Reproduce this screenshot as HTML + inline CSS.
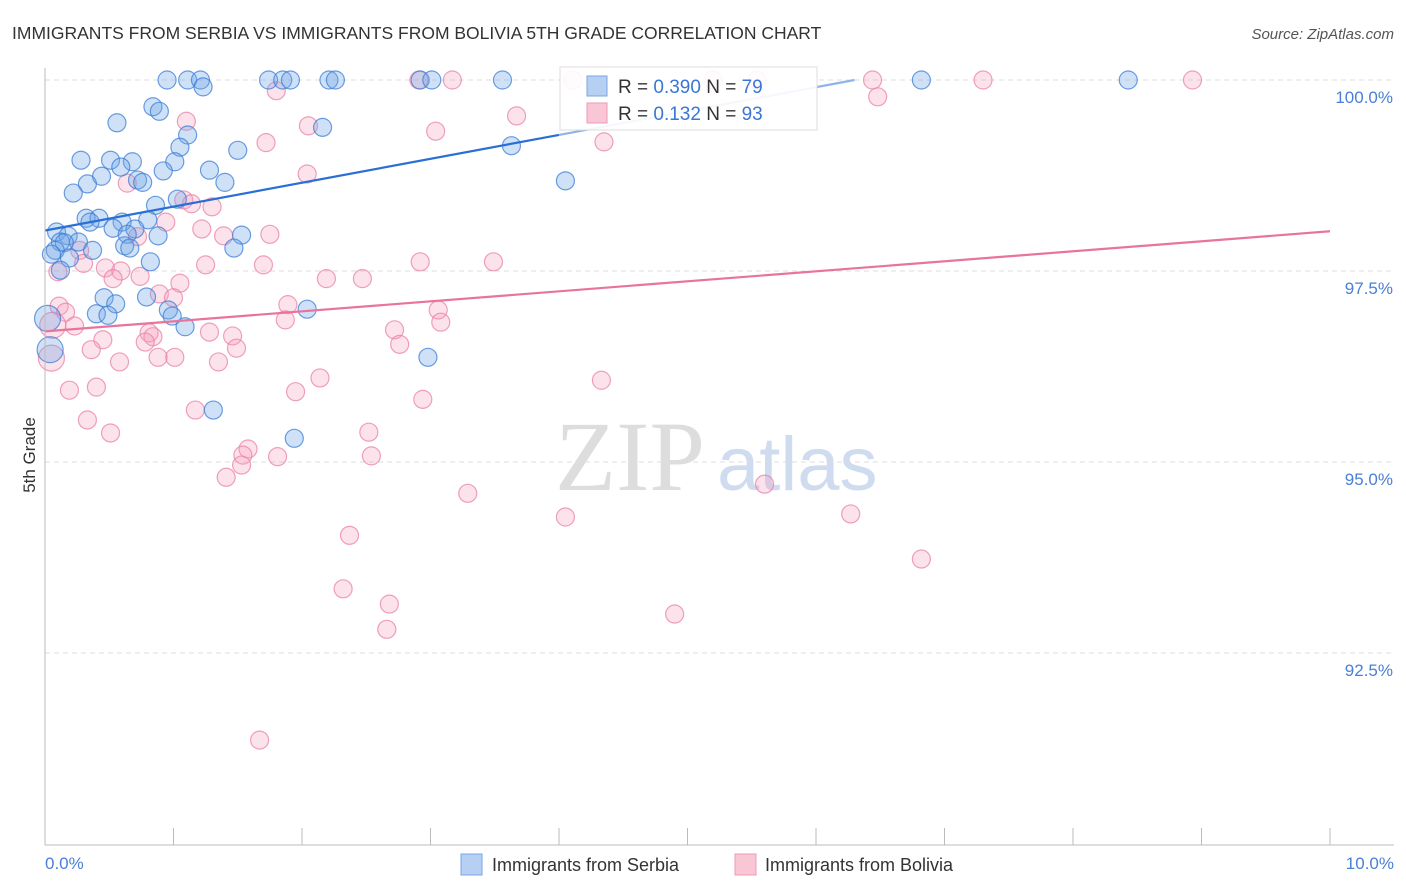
<!DOCTYPE html>
<html><head><meta charset="utf-8"><style>
body{margin:0;background:#fff;font-family:"Liberation Sans",sans-serif}
svg{display:block}
</style></head><body>
<svg id="c" width="1406" height="892" xmlns="http://www.w3.org/2000/svg">
<text x="12" y="39" font-size="17.5" fill="#333">IMMIGRANTS FROM SERBIA VS IMMIGRANTS FROM BOLIVIA 5TH GRADE CORRELATION CHART</text>
<text x="1394" y="39" font-size="15" fill="#555" font-style="italic" text-anchor="end">Source: ZipAtlas.com</text>
<text x="555" y="490" font-size="100" fill="#ddd" font-family="Liberation Serif,serif">ZIP</text>
<text x="717" y="490" font-size="76" fill="#cfdcf0">atlas</text>
<g id="grid"></g><g id="pts"></g><g id="lines"></g>
<line x1="45" y1="68" x2="45" y2="845" stroke="#bbb"/>
<line x1="45" y1="845" x2="1394" y2="845" stroke="#bbb"/>
<text x="35" y="455" font-size="17" fill="#333" transform="rotate(-90 35 455)" text-anchor="middle">5th Grade</text>
<text x="45" y="869" font-size="17" fill="#4a7fd6">0.0%</text>
<text x="1394" y="869" font-size="17" fill="#4a7fd6" text-anchor="end">10.0%</text>
<g>
<rect x="560" y="67" width="257" height="63" fill="#fff" fill-opacity="0.9" stroke="#ddd"/>
<rect x="587" y="76" width="20" height="20" fill="#b5d0f3" stroke="#7aa6e3"/>
<rect x="587" y="103" width="20" height="20" fill="#f9c6d6" stroke="#ee9ab5"/>
<text x="618" y="93" font-size="19" fill="#333">R = <tspan fill="#3a76d6">0.390</tspan>   N = <tspan fill="#3a76d6">79</tspan></text>
<text x="618" y="120" font-size="19" fill="#333">R =  <tspan fill="#3a76d6">0.132</tspan>   N = <tspan fill="#3a76d6">93</tspan></text>
</g>
<g>
<rect x="461" y="854" width="21" height="21" fill="#b5d0f3" stroke="#7aa6e3"/>
<text x="492" y="871" font-size="18" fill="#333">Immigrants from Serbia</text>
<rect x="735" y="854" width="21" height="21" fill="#f9c6d6" stroke="#ee9ab5"/>
<text x="765" y="871" font-size="18" fill="#333">Immigrants from Bolivia</text>
</g>
</svg>
<script>
const yTicks=[100,97.5,95,92.5];
const yTickLabels=["100.0%","97.5%","95.0%","92.5%"];
const xTicks=[0,1,2,3,4,5,6,7,8,9,10];
const serbiaX=[0.95,1.11,1.21,1.74,1.85,1.91,2.21,2.26,2.92,3.01,3.56,6.82,8.43,1.23,0.84,0.89,0.56,2.16,1.11,1.05,1.50,3.63,0.28,0.51,0.68,1.01,0.59,0.92,1.28,0.44,0.33,0.72,0.76,1.40,4.05,0.22,1.03,0.86,0.32,0.42,0.35,0.60,0.80,0.53,0.70,0.09,0.18,0.26,0.12,0.15,0.88,1.53,0.64,0.08,0.37,0.62,0.66,1.47,0.05,0.19,0.82,0.12,0.46,0.55,0.79,0.40,0.49,0.96,0.99,2.04,1.09,0.02,2.98,0.04,1.31,1.94];
const serbiaY=[100,100,100,100,100,100,100,100,100,100,100,100,100,99.91,99.65,99.59,99.44,99.38,99.28,99.12,99.08,99.14,98.95,98.95,98.93,98.93,98.86,98.81,98.82,98.74,98.64,98.69,98.66,98.66,98.68,98.52,98.44,98.36,98.19,98.19,98.14,98.14,98.17,98.06,98.05,98.01,97.96,97.88,97.88,97.87,97.96,97.97,97.98,97.77,97.77,97.83,97.80,97.80,97.72,97.67,97.62,97.51,97.15,97.07,97.16,96.94,96.92,96.99,96.91,97.00,96.77,96.88,96.37,96.47,95.68,95.31];
const serbiaBig=[71,73];
const boliviaX=[2.91,3.17,4.11,5.20,6.44,7.30,8.93,5.54,1.80,6.48,3.67,1.10,2.05,3.04,4.35,1.72,2.04,0.64,1.08,1.14,1.30,0.94,1.22,0.72,1.39,1.75,0.27,0.30,0.47,0.59,1.25,1.70,2.92,3.49,0.10,0.53,0.74,1.05,2.19,2.47,0.89,1.00,1.89,0.11,0.16,3.06,3.08,1.87,1.28,1.46,0.23,2.72,0.81,0.84,0.45,2.76,1.49,0.36,0.78,0.88,1.01,0.58,1.35,0.05,0.06,2.14,4.33,0.40,0.19,1.95,2.94,1.17,0.33,2.52,0.51,1.58,1.54,2.54,1.81,1.53,1.41,3.29,4.05,6.27,2.37,6.82,2.32,2.68,2.66,4.90,5.60,1.67];
const boliviaY=[100,100,100,100,100,100,100,100,99.86,99.78,99.53,99.46,99.40,99.33,99.19,99.18,98.77,98.65,98.43,98.38,98.34,98.14,98.05,97.95,97.96,97.98,97.77,97.60,97.54,97.50,97.58,97.58,97.62,97.62,97.49,97.40,97.43,97.34,97.40,97.40,97.20,97.15,97.06,97.04,96.96,96.99,96.83,96.86,96.70,96.65,96.78,96.73,96.69,96.64,96.60,96.54,96.49,96.47,96.57,96.37,96.37,96.31,96.31,96.36,96.79,96.10,96.07,95.98,95.94,95.92,95.82,95.68,95.55,95.39,95.38,95.17,95.09,95.08,95.07,94.96,94.80,94.59,94.28,94.32,94.04,93.73,93.34,93.14,92.81,93.01,94.71,91.36];
const boliviaBig=[63,64];
const serbiaTrend=[98.03,100];   // y at x=0 and x=6.3
const serbiaTrendX=[0,6.3];
const boliviaTrend=[96.71,98.02];
const boliviaTrendX=[0,10];

const NS="http://www.w3.org/2000/svg";
const sx=v=>45+v*128.5;
const sy=v=>80+(100-v)*76.4;
function mk(tag,attrs,parent){const e=document.createElementNS(NS,tag);for(const k in attrs)e.setAttribute(k,attrs[k]);parent.appendChild(e);return e;}
const grid=document.getElementById('grid');
yTicks.forEach((t,i)=>{
  const l=mk('line',{x1:45,x2:1394,y1:sy(t),y2:sy(t),stroke:'#ddd','stroke-dasharray':'5,4'},grid);
  
  
  const tx=mk('text',{x:1393,y:sy(t)+23,'font-size':17,fill:'#4a7fd6','text-anchor':'end'},grid);
  tx.textContent=yTickLabels[i];
  
  
});
xTicks.forEach(t=>{
  const l=mk('line',{x1:sx(t),x2:sx(t),y1:828,y2:845,stroke:'#bbb'},grid);
  
  
});
const pts=document.getElementById('pts');
function series(X,Y,big,fill,stroke,name){
  X.forEach((x,i)=>{
    const c=mk('circle',{cx:sx(x),cy:sy(Y[i]),r:big.includes(i)?13:9,fill:fill,stroke:stroke,'stroke-width':1.2},pts);
    
    
  });
}
series(boliviaX,boliviaY,boliviaBig,'rgba(244,160,188,0.3)','rgba(234,130,165,0.75)','bolivia-point');
series(serbiaX,serbiaY,serbiaBig,'rgba(110,165,232,0.33)','rgba(60,125,215,0.75)','serbia-point');
const lines=document.getElementById('lines');
const bx=serbiaTrendX,by=serbiaTrend;
const split=4.0, ysplit=by[0]+(by[1]-by[0])*(split-bx[0])/(bx[1]-bx[0]);
let l1=mk('line',{x1:sx(bx[0]),y1:sy(by[0]),x2:sx(split),y2:sy(ysplit),stroke:'#2a6fd6','stroke-width':2.2},lines);


let l2=mk('line',{x1:sx(split),y1:sy(ysplit),x2:sx(bx[1]),y2:sy(by[1]),stroke:'#8fb4ea','stroke-width':2.2},lines);


let l3=mk('line',{x1:sx(boliviaTrendX[0]),y1:sy(boliviaTrend[0]),x2:sx(boliviaTrendX[1]),y2:sy(boliviaTrend[1]),stroke:'#e8749c','stroke-width':2.2},lines);


</script>
</body></html>
